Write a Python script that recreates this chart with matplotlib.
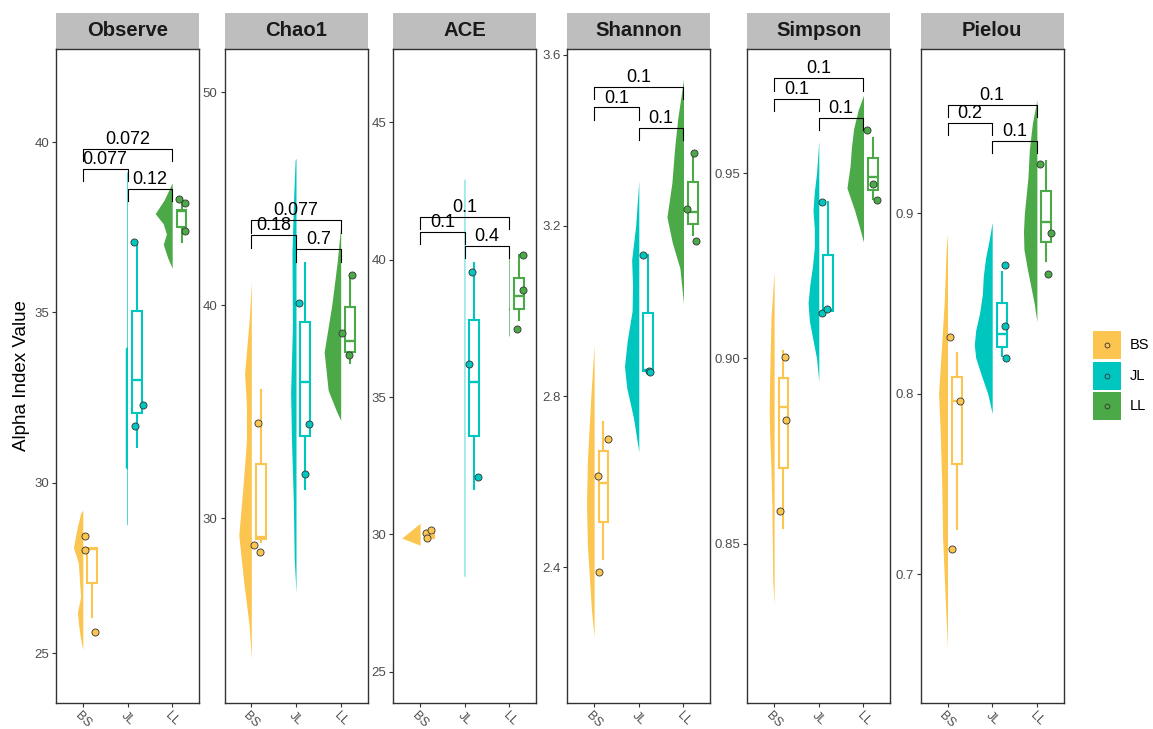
import numpy as np
import matplotlib.pyplot as plt
from matplotlib.patches import Rectangle
from matplotlib.lines import Line2D

# --------------------------------------------------
# Data
# --------------------------------------------------
groups = ['BS', 'JL', 'LL']
colors = ['#FCC54F', '#00C6C0', '#4BAA47']
indices = ['Observe', 'Chao1', 'ACE', 'Shannon', 'Simpson', 'Pielou']

# sample values per group
obs_pts = [[28.44, 28.03, 25.62], [37.06, 32.28, 31.67], [38.32, 38.20, 37.38]]
cha_pts = [[28.75, 28.40, 34.48], [40.10, 34.40, 32.05], [41.43, 38.70, 37.66]]
ace_pts = [[30.05, 30.16, 29.87], [39.56, 36.20, 32.08], [40.16, 38.89, 37.47]]
sha_pts = [[2.700, 2.613, 2.389], [3.131, 2.860, 2.858], [3.371, 3.238, 3.165]]
sim_pts = [[0.9004, 0.8834, 0.8588], [0.9421, 0.9122, 0.9134], [0.9616, 0.9471, 0.9427]]
pie_pts = [[0.8316, 0.7960, 0.7137], [0.8716, 0.8375, 0.8199], [0.9271, 0.8892, 0.8665]]

# jitter offsets of those points (x units from group centre)
obs_jit = [[0.04, 0.05, 0.28], [0.15, 0.35, 0.17], [0.15, 0.28, 0.29]]
cha_jit = [[0.07, 0.19, 0.16], [0.07, 0.28, 0.21], [0.25, 0.04, 0.18]]
ace_jit = [[0.13, 0.25, 0.15], [0.15, 0.10, 0.30], [0.31, 0.31, 0.16]]
sha_jit = [[0.31, 0.09, 0.12], [0.09, 0.22, 0.24], [0.23, 0.07, 0.28]]
sim_jit = [[0.24, 0.27, 0.13], [0.08, 0.07, 0.19], [0.07, 0.21, 0.31]]
pie_jit = [[0.06, 0.27, 0.11], [0.28, 0.28, 0.31], [0.08, 0.32, 0.24]]

# box stats: whisker low, q1, median, q3, whisker high
obs_box = [[26.06, 27.06, 28.05, 28.09, 28.09], [31.05, 32.04, 33.03, 35.04, 37.06], [37.06, 37.51, 37.98, 38.02, 38.32]]
cha_box = [[28.86, 29.00, 29.10, 32.54, 36.00], [31.38, 33.85, 36.40, 39.20, 41.98], [37.30, 37.80, 38.30, 39.90, 41.43]]
ace_box = [[29.85, 29.88, 29.95, 30.08, 30.16], [31.66, 33.60, 35.55, 37.79, 39.87], [37.79, 38.21, 38.68, 39.33, 40.16]]
sha_box = [[2.420, 2.505, 2.596, 2.671, 2.741], [2.859, 2.859, 2.862, 2.996, 3.131], [3.178, 3.203, 3.232, 3.303, 3.371]]
sim_box = [[0.8541, 0.8705, 0.8868, 0.8947, 0.9019], [0.9128, 0.9128, 0.9130, 0.9279, 0.9421], [0.9430, 0.9455, 0.9490, 0.9540, 0.9594]]
pie_box = [[0.7248, 0.7609, 0.7960, 0.8095, 0.8226], [0.8209, 0.8260, 0.8333, 0.8500, 0.8672], [0.8737, 0.8840, 0.8950, 0.9124, 0.9292]]

# half-violin outlines: (value, half width)
obs_vio = [
    [(25.1, 0), (25.5, 0.06), (25.9, 0.10), (26.2, 0.12), (26.65, 0.05), (27.15, 0.075), (27.65, 0.10), (28.1, 0.21), (28.6, 0.14), (29.1, 0.05), (29.2, 0)],
    [(28.75, 0), (28.8, 0.015), (30.4, 0.015), (30.45, 0.05), (33.95, 0.05), (34.0, 0.015), (39.1, 0.015), (39.15, 0)],
    [(36.3, 0), (36.6, 0.10), (37.0, 0.20), (37.3, 0.13), (37.6, 0.20), (37.9, 0.38), (38.3, 0.18), (38.8, 0)],
]
cha_vio = [
    [(23.4, 0), (25.0, 0.05), (27.0, 0.17), (29.2, 0.28), (31.4, 0.19), (33.6, 0.11), (35.3, 0.11), (36.8, 0.15), (39.25, 0.05), (41.1, 0)],
    [(26.5, 0), (28.1, 0.04), (30.8, 0.06), (33.6, 0.10), (35.9, 0.12), (39.0, 0.08), (42.5, 0.09), (45.2, 0.05), (46.8, 0.02), (46.9, 0)],
    [(34.6, 0), (35.0, 0.09), (36.0, 0.28), (37.8, 0.37), (40.0, 0.20), (42.0, 0.08), (43.7, 0)],
]
ace_vio = [
    [(29.61, 0), (29.87, 0.41), (30.41, 0)],
    [(28.45, 0), (28.5, 0.015), (42.9, 0.015), (42.95, 0)],
    [(37.2, 0), (37.25, 0.015), (38.15, 0.015), (38.2, 0.03), (38.25, 0.015), (40.45, 0.015), (40.5, 0)],
]
sha_vio = [
    [(2.236, 0), (2.30, 0.06), (2.35, 0.09), (2.45, 0.15), (2.55, 0.17), (2.65, 0.15), (2.80, 0.074), (2.921, 0)],
    [(2.67, 0), (2.75, 0.12), (2.82, 0.27), (2.87, 0.32), (2.93, 0.26), (3.00, 0.15), (3.06, 0.14), (3.12, 0.16), (3.20, 0.07), (3.305, 0)],
    [(3.018, 0), (3.10, 0.08), (3.16, 0.25), (3.22, 0.37), (3.30, 0.26), (3.38, 0.20), (3.45, 0.13), (3.50, 0.06), (3.543, 0)],
]
sim_vio = [
    [(0.8336, 0), (0.840, 0.03), (0.850, 0.04), (0.860, 0.05), (0.870, 0.07), (0.880, 0.10), (0.886, 0.11), (0.895, 0.10), (0.905, 0.08), (0.911, 0.07), (0.920, 0.02), (0.9233, 0)],
    [(0.8937, 0), (0.900, 0.05), (0.905, 0.13), (0.910, 0.21), (0.915, 0.24), (0.920, 0.20), (0.925, 0.14), (0.930, 0.10), (0.935, 0.10), (0.940, 0.13), (0.945, 0.10), (0.950, 0.05), (0.9587, 0)],
    [(0.9314, 0), (0.935, 0.08), (0.940, 0.20), (0.946, 0.37), (0.952, 0.30), (0.957, 0.27), (0.962, 0.22), (0.967, 0.12), (0.971, 0)],
]
pie_vio = [
    [(0.659, 0), (0.68, 0.04), (0.70, 0.075), (0.72, 0.11), (0.75, 0.13), (0.78, 0.165), (0.80, 0.20), (0.82, 0.15), (0.85, 0.075), (0.88, 0.03), (0.8886, 0)],
    [(0.789, 0), (0.800, 0.10), (0.810, 0.24), (0.820, 0.37), (0.827, 0.40), (0.835, 0.37), (0.845, 0.28), (0.855, 0.22), (0.865, 0.20), (0.875, 0.15), (0.885, 0.07), (0.895, 0)],
    [(0.84, 0), (0.85, 0.06), (0.86, 0.14), (0.87, 0.22), (0.88, 0.29), (0.89, 0.30), (0.90, 0.28), (0.91, 0.24), (0.92, 0.20), (0.935, 0.17), (0.95, 0.10), (0.963, 0)],
]

# pairwise tests: BS-JL, JL-LL, BS-LL
pairs = [(0, 1), (1, 2), (0, 2)]
obs_p = ['0.077', '0.12', '0.072']
cha_p = ['0.18', '0.7', '0.077']
ace_p = ['0.1', '0.4', '0.1']
sha_p = ['0.1', '0.1', '0.1']
sim_p = ['0.1', '0.1', '0.1']
pie_p = ['0.2', '0.1', '0.1']

# bracket heights
obs_sig_y = [39.21, 38.63, 39.80]
cha_sig_y = [43.29, 42.63, 43.99]
ace_sig_y = [41.02, 40.51, 41.56]
sha_sig_y = [3.477, 3.429, 3.525]
sim_sig_y = [0.9701, 0.9650, 0.9756]
pie_sig_y = [0.9503, 0.9403, 0.9601]

ylims = [(23.54, 42.73), (21.32, 52.03), (23.87, 47.66), (2.0815, 3.614), (0.807, 0.9835), (0.6285, 0.9911)]
yticks = [[25, 30, 35, 40], [30, 40, 50], [25, 30, 35, 40, 45],
          [2.4, 2.8, 3.2, 3.6], [0.85, 0.90, 0.95], [0.7, 0.8, 0.9]]
ytick_fmt = ['{:.0f}', '{:.0f}', '{:.0f}', '{:.1f}', '{:.2f}', '{:.1f}']

panel_data = [
    (obs_pts, obs_jit, obs_box, obs_vio, obs_p, obs_sig_y),
    (cha_pts, cha_jit, cha_box, cha_vio, cha_p, cha_sig_y),
    (ace_pts, ace_jit, ace_box, ace_vio, ace_p, ace_sig_y),
    (sha_pts, sha_jit, sha_box, sha_vio, sha_p, sha_sig_y),
    (sim_pts, sim_jit, sim_box, sim_vio, sim_p, sim_sig_y),
    (pie_pts, pie_jit, pie_box, pie_vio, pie_p, pie_sig_y),
]

# --------------------------------------------------
# Plot settings
# --------------------------------------------------
plt.rcParams['font.family'] = ['Liberation Sans', 'DejaVu Sans']

W, H = 1153, 729
fig = plt.figure(figsize=(W / 100, H / 100), dpi=100)

panel_left = [56, 224.5, 393.3, 567.3, 747.3, 920.7]
panel_w = 143
panel_top, panel_bot = 49, 703
strip_h = 36

box_off = 0.21
box_w = 0.22
tip_frac = 0.019

for k, name in enumerate(indices):
    pts, jit, box, vio, pvals, sig_y = panel_data[k]
    ax = fig.add_axes([panel_left[k] / W, 1 - panel_bot / H,
                       panel_w / W, (panel_bot - panel_top) / H])
    pos = np.arange(1, len(groups) + 1)

    for g in range(len(groups)):
        c = colors[g]
        # half violin on the left of the group position
        prof = np.array(vio[g])
        ax.fill_betweenx(prof[:, 0], pos[g] - prof[:, 1], pos[g],
                         color=c, lw=0, zorder=1)

        # box plot shifted to the right
        wl, q1, med, q3, wh = box[g]
        stats = [dict(whislo=wl, q1=q1, med=med, q3=q3, whishi=wh, fliers=[])]
        ax.bxp(stats, positions=[pos[g] + box_off], widths=box_w,
               showcaps=False, showfliers=False, patch_artist=True,
               boxprops=dict(facecolor='white', edgecolor=c, linewidth=1.5),
               whiskerprops=dict(color=c, linewidth=1.5),
               medianprops=dict(color=c, linewidth=1.7),
               manage_ticks=False, zorder=2)

        # jittered samples
        ax.scatter(pos[g] + np.array(jit[g]), pts[g], s=26, color=c,
                   edgecolor='#333333', linewidth=0.6, zorder=3)

    # significance brackets
    yr = ylims[k][1] - ylims[k][0]
    tip = tip_frac * yr
    for (i, j), lab, y in zip(pairs, pvals, sig_y):
        ax.plot([pos[i], pos[i], pos[j], pos[j]], [y - tip, y, y, y - tip],
                color='black', lw=0.8, zorder=4)
        ax.annotate(lab, xy=((pos[i] + pos[j]) / 2, y), xytext=(0, 3.5),
                    textcoords='offset points', ha='center', va='baseline',
                    fontsize=13, color='black', zorder=5)

    ax.set_xlim(0.4, 3.6)
    ax.set_ylim(*ylims[k])
    ax.set_xticks(pos)
    ax.set_xticklabels(groups, rotation=-45, ha='center', va='top')
    ax.set_yticks(yticks[k])
    ax.set_yticklabels([ytick_fmt[k].format(v) for v in yticks[k]])
    ax.tick_params(axis='both', length=3, width=0.8, color='#333333',
                   labelcolor='#4D4D4D', labelsize=9.5, pad=2)
    ax.tick_params(axis='x', pad=1.5, labelsize=9)

    for spine in ax.spines.values():
        spine.set_color('#333333')
        spine.set_linewidth(1.0)

    # facet strip
    sh = strip_h / (panel_bot - panel_top)
    ax.add_patch(Rectangle((0, 1), 1, sh, transform=ax.transAxes,
                           facecolor='#BEBEBE', edgecolor='none', clip_on=False))
    ax.text(0.5, 1 + sh / 2, name, transform=ax.transAxes, ha='center',
            va='center', fontsize=14.6, fontweight='bold', color='#1A1A1A')

    if k == 0:
        ax.set_ylabel('Alpha Index Value', fontsize=13.5, labelpad=3)

# --------------------------------------------------
# Legend (filled keys with a small open circle)
# --------------------------------------------------
key_x, key_size = 1093, 28
key_tops = [331, 362, 392]
for g, lab in enumerate(groups):
    top = key_tops[g]
    fig.add_artist(Rectangle((key_x / W, 1 - (top + key_size) / H),
                             key_size / W, key_size / H,
                             transform=fig.transFigure,
                             facecolor=colors[g], edgecolor='none'))
    cy = 1 - (top + key_size / 2) / H
    fig.add_artist(Line2D([(key_x + key_size / 2) / W], [cy],
                          transform=fig.transFigure, marker='o', ls='none',
                          markerfacecolor='none', markeredgecolor='#333333',
                          markersize=3.5, markeredgewidth=0.6))
    fig.text((key_x + key_size + 9) / W, cy, lab, ha='left', va='center',
             fontsize=10.5, color='black')

plt.savefig('out.png', dpi=100)
